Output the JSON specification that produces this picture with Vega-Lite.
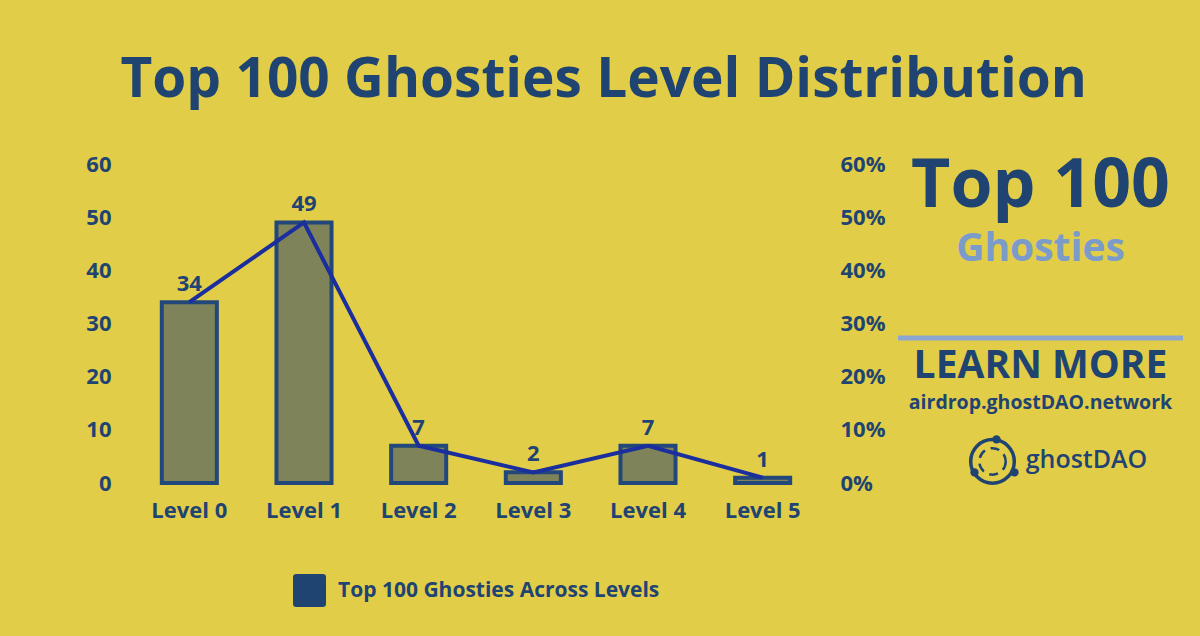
{
  "$schema": "https://vega.github.io/schema/vega-lite/v6.json",
  "background": "#E2CD48",
  "padding": {"left": 85, "top": 52, "right": 14, "bottom": 29},
  "datasets": {
    "levels": [
      {"level": "Level 0", "count": 34, "share": 0.34, "series": "Top 100 Ghosties Across Levels"},
      {"level": "Level 1", "count": 49, "share": 0.49, "series": "Top 100 Ghosties Across Levels"},
      {"level": "Level 2", "count": 7, "share": 0.07, "series": "Top 100 Ghosties Across Levels"},
      {"level": "Level 3", "count": 2, "share": 0.02, "series": "Top 100 Ghosties Across Levels"},
      {"level": "Level 4", "count": 7, "share": 0.07, "series": "Top 100 Ghosties Across Levels"},
      {"level": "Level 5", "count": 1, "share": 0.01, "series": "Top 100 Ghosties Across Levels"}
    ],
    "panel": [
      {"item": "Top 100"},
      {"item": "Ghosties"},
      {"item": "rule"},
      {"item": "LEARN MORE"},
      {"item": "airdrop.ghostDAO.network"},
      {"item": "ghostDAO"}
    ]
  },
  "title": {
    "text": "Top 100 Ghosties Level Distribution",
    "font": "Open Sans",
    "fontSize": 55,
    "fontWeight": "bold",
    "color": "#1F4472",
    "anchor": "middle",
    "dx": -32,
    "offset": 44
  },
  "spacing": 10,
  "resolve": {"legend": {"fill": "independent"}},
  "hconcat": [
    {
      "width": 688,
      "height": 319,
      "data": {"name": "levels"},
      "encoding": {
        "x": {
          "field": "level",
          "type": "nominal",
          "sort": null,
          "scale": {"paddingInner": 0.52, "paddingOuter": 0.26},
          "axis": {
            "title": null,
            "labelAngle": 0,
            "labelFont": "Open Sans",
            "labelFontSize": 22,
            "labelFontWeight": "bold",
            "labelColor": "#1F4472",
            "labelPadding": 17,
            "domain": false,
            "ticks": false,
            "tickSize": 0
          }
        }
      },
      "layer": [
        {
          "mark": {"type": "bar", "fill": "#7F8359", "stroke": "#22477A", "strokeWidth": 4},
          "encoding": {
            "y": {
              "field": "count",
              "type": "quantitative",
              "scale": {"domain": [0, 60]},
              "axis": {
                "title": null,
                "values": [0, 10, 20, 30, 40, 50, 60],
                "grid": false,
                "domain": false,
                "ticks": false,
                "tickSize": 0,
                "labelFont": "Open Sans",
                "labelFontSize": 22,
                "labelFontWeight": "bold",
                "labelColor": "#1F4472",
                "labelPadding": 21
              }
            }
          }
        },
        {
          "mark": {"type": "point", "filled": true, "opacity": 0},
          "encoding": {
            "y": {"field": "count", "type": "quantitative", "scale": {"domain": [0, 60]}, "axis": null},
            "fill": {
              "field": "series",
              "type": "nominal",
              "scale": {"range": ["#1F4472"]},
              "legend": {
                "title": null,
                "orient": "bottom",
                "offset": 53,
                "symbolType": "M-0.8,-1H0.8Q1,-1,1,-0.8V0.8Q1,1,0.8,1H-0.8Q-1,1,-1,0.8V-0.8Q-1,-1,-0.8,-1Z",
                "symbolSize": 1089,
                "symbolStrokeWidth": 0,
                "symbolOpacity": 1,
                "labelFont": "Open Sans",
                "labelFontSize": 21,
                "labelFontWeight": "bold",
                "labelColor": "#1F4472",
                "labelOffset": 12,
                "labelLimit": 500
              }
            }
          }
        },
        {
          "mark": {"type": "line", "color": "#1A2E9E", "strokeWidth": 4},
          "encoding": {
            "y": {
              "field": "share",
              "type": "quantitative",
              "scale": {"domain": [0, 0.6]},
              "axis": {
                "orient": "right",
                "title": null,
                "format": ".0%",
                "values": [0, 0.1, 0.2, 0.3, 0.4, 0.5, 0.6],
                "grid": false,
                "domain": false,
                "ticks": false,
                "tickSize": 0,
                "labelFont": "Open Sans",
                "labelFontSize": 22,
                "labelFontWeight": "bold",
                "labelColor": "#1F4472",
                "labelPadding": 20
              }
            }
          }
        },
        {
          "mark": {"type": "text", "font": "Open Sans", "fontSize": 22, "fontWeight": "bold", "color": "#1F4472", "baseline": "alphabetic", "dy": -11},
          "encoding": {
            "y": {"field": "count", "type": "quantitative", "scale": {"domain": [0, 60]}, "axis": null},
            "text": {"field": "count", "type": "quantitative"}
          }
        }
      ],
      "resolve": {"scale": {"y": "independent"}}
    },
    {
      "width": 285,
      "height": 319,
      "data": {"name": "panel"},
      "encoding": {
        "y": {
          "field": "item",
          "type": "nominal",
          "scale": {"type": "point", "padding": 0.5, "domain": ["Top 100", "Ghosties", "rule", "LEARN MORE", "airdrop.ghostDAO.network", "ghostDAO"]},
          "axis": null
        }
      },
      "layer": [
        {
          "transform": [{"filter": "datum.item === 'Top 100'"}],
          "mark": {"type": "text", "font": "Open Sans", "fontSize": 68, "fontWeight": "bold", "color": "#1F4472", "baseline": "middle", "dy": -4},
          "encoding": {"text": {"field": "item"}}
        },
        {
          "transform": [{"filter": "datum.item === 'Ghosties'"}],
          "mark": {"type": "text", "font": "Open Sans", "fontSize": 39, "fontWeight": "bold", "color": "#7B9BCB", "baseline": "middle", "dy": 5},
          "encoding": {"text": {"field": "item"}}
        },
        {
          "transform": [{"filter": "datum.item === 'rule'"}],
          "mark": {"type": "rule", "color": "#8CA6D2", "strokeWidth": 5, "yOffset": 41},
          "encoding": {}
        },
        {
          "transform": [{"filter": "datum.item === 'LEARN MORE'"}],
          "mark": {"type": "text", "font": "Open Sans", "fontSize": 39, "fontWeight": "bold", "color": "#1F4472", "baseline": "middle", "dy": 16},
          "encoding": {"text": {"field": "item"}}
        },
        {
          "transform": [{"filter": "datum.item === 'airdrop.ghostDAO.network'"}],
          "mark": {"type": "text", "font": "Open Sans", "fontSize": 19.5, "fontWeight": "bold", "color": "#1F4472", "baseline": "middle", "dy": 0},
          "encoding": {"text": {"field": "item"}}
        },
        {
          "transform": [{"filter": "datum.item === 'ghostDAO'"}],
          "mark": {"type": "text", "font": "Open Sans", "fontSize": 25, "fontWeight": 600, "color": "#1F4472", "baseline": "middle", "dx": 46, "dy": 4},
          "encoding": {"text": {"field": "item"}}
        },
        {
          "transform": [{"filter": "datum.item === 'ghostDAO'"}],
          "mark": {"type": "point", "shape": "circle", "filled": false, "size": 1900, "strokeWidth": 3.5, "color": "#1F4472", "opacity": 1, "xOffset": -48, "yOffset": 5},
          "encoding": {}
        },
        {
          "transform": [{"filter": "datum.item === 'ghostDAO'"}],
          "mark": {"type": "point", "shape": "circle", "filled": false, "size": 700, "strokeWidth": 2.5, "strokeDash": [9, 6], "color": "#1F4472", "opacity": 1, "xOffset": -48, "yOffset": 5},
          "encoding": {}
        },
        {
          "transform": [{"filter": "datum.item === 'ghostDAO'"}],
          "mark": {"type": "point", "shape": "circle", "filled": true, "size": 70, "color": "#1F4472", "opacity": 1, "xOffset": -44, "yOffset": -17},
          "encoding": {}
        },
        {
          "transform": [{"filter": "datum.item === 'ghostDAO'"}],
          "mark": {"type": "point", "shape": "circle", "filled": true, "size": 70, "color": "#1F4472", "opacity": 1, "xOffset": -66, "yOffset": 16},
          "encoding": {}
        },
        {
          "transform": [{"filter": "datum.item === 'ghostDAO'"}],
          "mark": {"type": "point", "shape": "circle", "filled": true, "size": 70, "color": "#1F4472", "opacity": 1, "xOffset": -26, "yOffset": 16},
          "encoding": {}
        }
      ]
    }
  ],
  "config": {
    "view": {"stroke": null},
    "legend": {"layout": {"bottom": {"anchor": "middle"}}}
  }
}
